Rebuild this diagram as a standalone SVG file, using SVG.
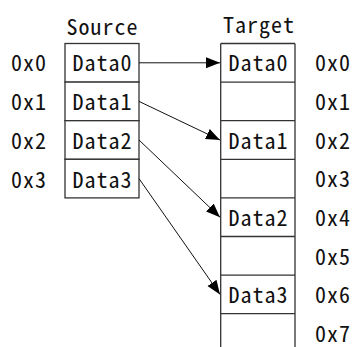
<svg xmlns="http://www.w3.org/2000/svg" width="354" height="347" viewBox="0 0 354 347">
<style>
text{font-family:"Noto Sans Mono CJK SC","Noto Sans CJK SC","DejaVu Sans Mono",monospace;font-size:22px;letter-spacing:1px;fill:#111}
.c{text-anchor:middle}
.box{fill:#fff;stroke:#333;stroke-width:1.3}
.ln{stroke:#333;stroke-width:1.3;fill:none}
.arr{stroke:#111;stroke-width:1;fill:none;marker-end:url(#ah)}
</style>
<defs>
<marker id="ah" markerUnits="userSpaceOnUse" markerWidth="14" markerHeight="12" refX="14" refY="6" orient="auto">
<path d="M0,0.5 L14,6 L0,11.5 z" fill="#000"/>
</marker>
</defs>
<rect width="354" height="347" fill="#fff"/>
<g id="titles">
<text class="c" x="102.5" y="35">Source</text>
<text class="c" x="259" y="33">Target</text>
</g>
<g id="source">
<g id="s0"><rect class="box" x="65" y="43.5" width="74" height="38.6"/><text class="c" x="102.5" y="71">Data0</text><text x="11" y="71">0x0</text></g>
<g id="s1"><rect class="box" x="65" y="82.1" width="74" height="38.6"/><text class="c" x="102.5" y="110">Data1</text><text x="11" y="110">0x1</text></g>
<g id="s2"><rect class="box" x="65" y="120.7" width="74" height="38.6"/><text class="c" x="102.5" y="149">Data2</text><text x="11" y="149">0x2</text></g>
<g id="s3"><rect class="box" x="65" y="159.3" width="74" height="38.6"/><text class="c" x="102.5" y="187.5">Data3</text><text x="11" y="187.5">0x3</text></g>
</g>
<g id="target">
<path class="ln" d="M220.7,43.5 V347 M295,43.5 V347 M220.7,43.5 H295 M220.7,82.1 H295 M220.7,120.7 H295 M220.7,159.3 H295 M220.7,197.9 H295 M220.7,236.5 H295 M220.7,275.1 H295 M220.7,313.7 H295"/>
<g id="t0"><text class="c" x="258.5" y="71">Data0</text><text x="315" y="71">0x0</text></g>
<g id="t1"><text x="315" y="110">0x1</text></g>
<g id="t2"><text class="c" x="258.5" y="149">Data1</text><text x="315" y="149">0x2</text></g>
<g id="t3"><text x="315" y="187">0x3</text></g>
<g id="t4"><text class="c" x="258.5" y="226">Data2</text><text x="315" y="226">0x4</text></g>
<g id="t5"><text x="315" y="264.5">0x5</text></g>
<g id="t6"><text class="c" x="258.5" y="303">Data3</text><text x="315" y="303">0x6</text></g>
<g id="t7"><text x="315" y="341.5">0x7</text></g>
</g>
<g id="connectors">
<line class="arr" x1="139" y1="62.8" x2="220" y2="62.8"/>
<line class="arr" x1="139" y1="101.4" x2="220" y2="140"/>
<line class="arr" x1="139" y1="140" x2="220" y2="217.2"/>
<line class="arr" x1="139" y1="178.6" x2="220" y2="294.4"/>
</g>
</svg>
